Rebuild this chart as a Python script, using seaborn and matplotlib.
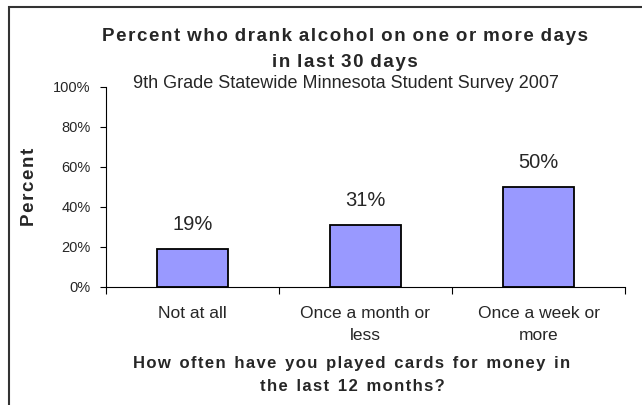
import matplotlib
matplotlib.use('Agg')
import matplotlib.pyplot as plt
import seaborn as sns
import pandas as pd
from matplotlib.patches import Rectangle
from matplotlib.ticker import PercentFormatter, FixedLocator

# chart data
categories = ['Not at all', 'Once a month or\nless', 'Once a week or\nmore']
percents = [0.19, 0.31, 0.50]
value_labels = ['19%', '31%', '50%']

df = pd.DataFrame({'freq': categories, 'pct': percents})

sns.set_style('white')
plt.rcParams['font.family'] = ['Liberation Sans', 'DejaVu Sans']


def spaced(s, word_gap='\u200a\u200a \u200a'):
    # letter-spaced text like the original chart's bold titles (hair spaces)
    words = s.split(' ')
    return word_gap.join('\u200a'.join(w) for w in words)


fig = plt.figure(figsize=(6.42, 4.05), dpi=100)
ax = fig.add_axes([106 / 642, 118 / 405, 519 / 642, 200 / 405])

sns.barplot(data=df, x='freq', y='pct', color='#9999FF', saturation=1,
            edgecolor='black', linewidth=1.3, width=0.41, ax=ax)

# value labels above bars
for i, (v, lab) in enumerate(zip(percents, value_labels)):
    ax.text(i, v + 0.12, lab, ha='center', va='center', fontsize=14.5)

ax.set_xlim(-0.5, 2.5)
ax.set_ylim(0, 1)
ax.yaxis.set_major_locator(FixedLocator([0, 0.2, 0.4, 0.6, 0.8, 1.0]))
ax.yaxis.set_major_formatter(PercentFormatter(1.0, decimals=0))
ax.tick_params(axis='y', length=4, width=0.8, left=True, labelsize=10.5, pad=7, color='black')

# x ticks at category boundaries, labels at centres
ax.set_xticks([0, 1, 2])
ax.set_xticklabels(categories, fontsize=12.5, linespacing=1.55)
ax.tick_params(axis='x', which='major', length=0, pad=14)
ax.set_xticks([-0.5, 0.5, 1.5, 2.5], minor=True)
ax.tick_params(axis='x', which='minor', length=5, width=0.8, bottom=True, color='black')

for s in ['top', 'right']:
    ax.spines[s].set_visible(False)
for s in ['left', 'bottom']:
    ax.spines[s].set_color('black')
    ax.spines[s].set_linewidth(0.8)

ax.set_ylabel(spaced('Percent'), fontsize=13.5, fontweight='bold', labelpad=11)
xlab = spaced('How often have you played cards for money in') + '\n' + spaced('the last 12 months?')
ax.set_xlabel(xlab, fontsize=12, fontweight='bold', linespacing=1.6)
ax.xaxis.set_label_coords(0.474, -0.347)

title = (spaced('Percent who drank alcohol on one or more days', ' \u200a') + '\n'
         + spaced('in last 30 days', ' \u200a'))
fig.text(345 / 642, 1 - 49.5 / 405, title,
         ha='center', va='center', fontsize=13.5, fontweight='bold', linespacing=1.65)
fig.text(346 / 642, 1 - 83 / 405, '9th Grade Statewide Minnesota Student Survey 2007',
         ha='center', va='center', fontsize=13)

# outer chart border
fig.patches.append(Rectangle((9 / 642, -0.1), 1.2, 1.1 - 7 / 405, transform=fig.transFigure,
                             fill=False, edgecolor='#333333', linewidth=1.5))

fig.savefig('out.png', dpi=100)
